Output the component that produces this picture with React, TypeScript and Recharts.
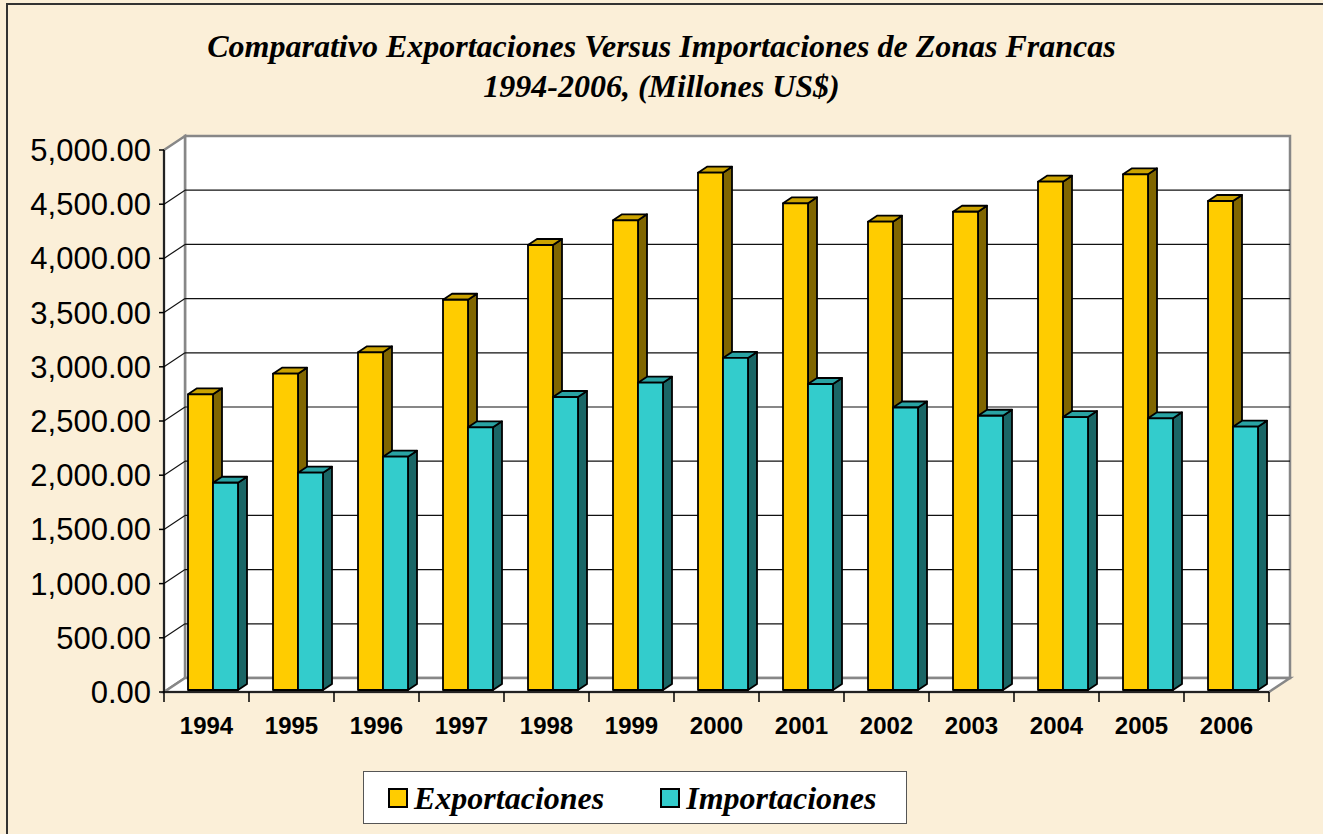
import React from 'react';
import { BarChart, Bar, XAxis, YAxis, CartesianGrid, ReferenceArea, Legend } from 'recharts';

const years = ['1994', '1995', '1996', '1997', '1998', '1999', '2000', '2001', '2002', '2003', '2004', '2005', '2006'];
const exportaciones = [2728, 2918, 3115, 3600, 4105, 4333, 4772, 4490, 4320, 4412, 4689, 4757, 4511];
const importaciones = [1912, 2005, 2152, 2423, 2703, 2835, 3063, 2823, 2606, 2530, 2518, 2506, 2429];
const yTicks = [0, 500, 1000, 1500, 2000, 2500, 3000, 3500, 4000, 4500, 5000];
const gridValues = [500, 1000, 1500, 2000, 2500, 3000, 3500, 4000, 4500];
const titleLine1 = 'Comparativo Exportaciones Versus Importaciones de Zonas Francas';
const titleLine2 = '1994-2006, (Millones US$)';
const seriesNames = ['Exportaciones', 'Importaciones'];

const data = years.map((y, i) => ({ year: y, exp: exportaciones[i], imp: importaciones[i] }));

const DX = 21;
const DY = -14;
const BDX = 9;
const BDY = -6;
const SX = 6;
const SY = -2;
const WALL = '#878787';

const GOLD = { front: '#FFCC00', top: '#CCA300', side: '#806600' };
const TEAL = { front: '#33CCCC', top: '#29A3A3', side: '#1A6666' };

const make3DBar = (c: { front: string; top: string; side: string }) => (props: any) => {
  const { x, y, width, height } = props;
  if (x == null || width == null || !height) return <g />;
  const x0 = x + SX;
  const y0 = y + SY;
  const w = width;
  const h = height;
  return (
    <g stroke="#000" strokeWidth={1.8} strokeLinejoin="round">
      <polygon
        points={`${x0 + w},${y0} ${x0 + w + BDX},${y0 + BDY} ${x0 + w + BDX},${y0 + h + BDY} ${x0 + w},${y0 + h}`}
        fill={c.side}
      />
      <polygon
        points={`${x0},${y0} ${x0 + BDX},${y0 + BDY} ${x0 + w + BDX},${y0 + BDY} ${x0 + w},${y0}`}
        fill={c.top}
      />
      <rect x={x0} y={y0} width={w} height={h} fill={c.front} />
    </g>
  );
};

const Walls = (props: any) => {
  const { x, y, width, height } = props;
  if (x == null) return <g />;
  const l = x;
  const r = x + width;
  const t = y;
  const b = y + height;
  return (
    <g strokeLinejoin="miter">
      <polygon
        points={`${l + DX},${t + DY} ${r + DX},${t + DY} ${r + DX},${b + DY} ${l + DX},${b + DY}`}
        fill="#fff"
        stroke={WALL}
        strokeWidth={2.5}
      />
      <polygon
        points={`${l},${t} ${l + DX},${t + DY} ${l + DX},${b + DY} ${l},${b}`}
        fill="#fff"
        stroke={WALL}
        strokeWidth={2.5}
      />
      <polygon
        points={`${l},${b} ${l + DX},${b + DY} ${r + DX},${b + DY} ${r},${b}`}
        fill="#fff"
        stroke={WALL}
        strokeWidth={2.5}
      />
    </g>
  );
};

const gridLine = (p: any) => {
  const { x1, y1, x2 } = p;
  return (
    <g key={p.key}>
      <line x1={x1} y1={y1} x2={x1 + DX} y2={y1 + DY} stroke="#111" strokeWidth={1.2} />
      <line x1={x1 + DX} y1={y1 + DY} x2={x2 + DX} y2={y1 + DY} stroke="#111" strokeWidth={1.2} />
    </g>
  );
};

const XTick = (props: any) => {
  const { x, y, payload, index } = props;
  const half = payload && payload.offset ? payload.offset : 42.5;
  const last = index === years.length - 1;
  return (
    <g>
      <line x1={x - half} y1={y} x2={x - half} y2={y + 10} stroke="#000" strokeWidth={1.5} />
      {last && <line x1={x + half} y1={y} x2={x + half} y2={y + 10} stroke="#000" strokeWidth={1.5} />}
      <text
        x={x}
        y={y + 42}
        textAnchor="middle"
        fontFamily="Arial, 'Liberation Sans', sans-serif"
        fontWeight="bold"
        fontSize={24}
        fill="#000"
      >
        {payload.value}
      </text>
    </g>
  );
};

const fmt = (v: number) =>
  v.toLocaleString('en-US', { minimumFractionDigits: 2, maximumFractionDigits: 2 });

const LegendBox = () => {
  const item = (color: string, label: string, mr: number) => (
    <div style={{ display: 'flex', alignItems: 'center', marginRight: mr }}>
      <div
        style={{
          width: 16,
          height: 16,
          background: color,
          border: '2px solid #000',
          marginRight: 6,
        }}
      />
      <span
        style={{
          fontFamily: "'Times New Roman', 'Liberation Serif', serif",
          fontStyle: 'italic',
          fontWeight: 'bold',
          fontSize: 32,
          color: '#000',
          lineHeight: '34px',
        }}
      >
        {label}
      </span>
    </div>
  );
  return (
    <div
      style={{
        width: 544,
        height: 53,
        boxSizing: 'border-box',
        border: '1.5px solid #555',
        background: '#fff',
        display: 'flex',
        alignItems: 'center',
        paddingLeft: 24,
      }}
    >
      {item(GOLD.front, seriesNames[0], 56)}
      {item(TEAL.front, seriesNames[1], 0)}
    </div>
  );
};

export default function App() {
  return (
    <div
      style={{
        position: 'absolute',
        left: 0,
        top: 0,
        width: 1323,
        height: 834,
        background: '#FBEFD8',
        overflow: 'hidden',
      }}
    >
      <div
        style={{
          position: 'absolute',
          left: 6,
          top: 3,
          width: 1317,
          height: 831,
          borderLeft: '2px solid #333',
          borderTop: '2px solid #333',
        }}
      />
      <div
        style={{
          position: 'absolute',
          left: 0,
          top: 26,
          width: 1323,
          textAlign: 'center',
          fontFamily: "'Times New Roman', 'Liberation Serif', serif",
          fontStyle: 'italic',
          fontWeight: 'bold',
          fontSize: 32,
          lineHeight: '40px',
          color: '#000',
        }}
      >
        <div>{titleLine1}</div>
        <div>{titleLine2}</div>
      </div>
      <div style={{ position: 'absolute', left: 0, top: 0 }}>
        <BarChart
          width={1323}
          height={834}
          data={data}
          margin={{ top: 150, right: 54, bottom: 112, left: 64 }}
          barCategoryGap={18}
          barGap={0}
        >
          <ReferenceArea y1={0} y2={5000} shape={Walls} zIndex={-200} ifOverflow="visible" />
          <CartesianGrid vertical={false} horizontal={gridLine} horizontalValues={gridValues} zIndex={-100} />
          <XAxis
            dataKey="year"
            axisLine={{ stroke: '#000', strokeWidth: 1.5 }}
            tickLine={false}
            tickSize={0}
            tickMargin={0}
            tick={<XTick />}
            interval={0}
            height={30}
          />
          <YAxis
            width={100}
            domain={[0, 5000]}
            ticks={yTicks}
            tickFormatter={fmt}
            axisLine={{ stroke: '#000', strokeWidth: 1.5 }}
            tickLine={{ stroke: '#000', strokeWidth: 1.5 }}
            tickSize={5}
            tickMargin={8}
            tick={{ fill: '#000', fontSize: 31, fontFamily: "Arial, 'Liberation Sans', sans-serif" }}
            interval={0}
          />
          <Bar dataKey="exp" name={seriesNames[0]} fill={GOLD.front} shape={make3DBar(GOLD)} isAnimationActive={false} />
          <Bar dataKey="imp" name={seriesNames[1]} fill={TEAL.front} shape={make3DBar(TEAL)} isAnimationActive={false} />
          <Legend
            layout="horizontal"
            verticalAlign="middle"
            align="center"
            content={<LegendBox />}
            wrapperStyle={{ left: 363, top: 771, width: 544, height: 53 }}
          />
        </BarChart>
      </div>
    </div>
  );
}
